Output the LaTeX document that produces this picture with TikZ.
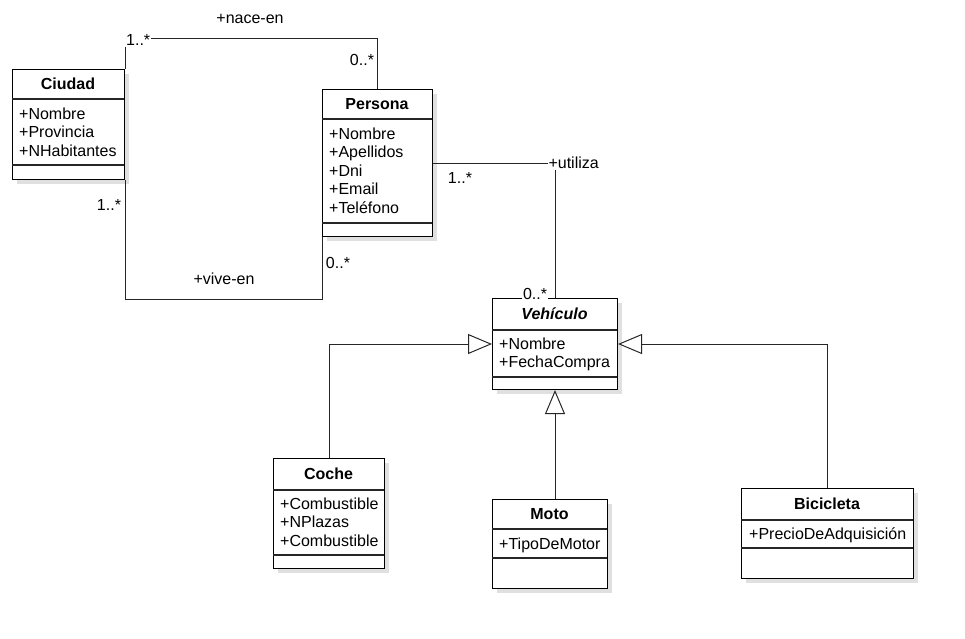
\documentclass[tikz,border=0pt]{standalone}
\usepackage{fontspec}
\setmainfont{Liberation Sans}
\usetikzlibrary{arrows.meta,shadows}

\begin{document}
\begin{tikzpicture}[
		x=1pt, y=-1pt,
		font=\fontsize{16}{18.5}\selectfont,
		class/.style={draw, line width=1pt, fill=white, anchor=north west, inner sep=0pt,
			drop shadow={shadow xshift=4pt, shadow yshift=-4pt, fill=black!12, opacity=1}},
		title/.style={font=\fontsize{16}{18.5}\selectfont\bfseries},
		attr/.style={anchor=base west, inner sep=0pt},
		sep/.style={line width=1.2pt, black!85},
		mult/.style={inner sep=1pt, fill=white, text=black},
		assoc/.style={line width=1pt, black!85},
		gen/.style={line width=1pt, black!85, -{Triangle[open, length=24pt, width=20pt]}}
	]
		\useasboundingbox (0,0) rectangle (965,638);

		% Classes
		\node[class, minimum width=112, minimum height=110] (ciudad) at (12,69) {};
		\node[title] (ciudad-title) at (68,84) {Ciudad};
		\draw[sep] (12,99) -- (124,99);
		\draw[sep] (12,165) -- (124,165);
		\foreach \a [count=\i] in {Nombre, Provincia, NHabitantes}
			\node[attr] (ciudad-\i) at (19,100.5+18.5*\i) {+\a};

		\node[class, minimum width=110, minimum height=147] (persona) at (322,89) {};
		\node[title] (persona-title) at (377,104) {Persona};
		\draw[sep] (322,119) -- (432,119);
		\draw[sep] (322,223) -- (432,223);
		\foreach \a [count=\i] in {Nombre, Apellidos, Dni, Email, Teléfono}
			\node[attr] (persona-\i) at (329,120.5+18.5*\i) {+\a};

		\node[class, minimum width=125, minimum height=91] (vehiculo) at (492,298) {};
		\node[title] (vehiculo-title) at (554.5,314) {\itshape Vehículo};
		\draw[sep] (492,330) -- (617,330);
		\draw[sep] (492,377) -- (617,377);
		\foreach \a [count=\i] in {Nombre, FechaCompra}
			\node[attr] (vehiculo-\i) at (499,330.5+18.5*\i) {+\a};

		\node[class, minimum width=111, minimum height=110] (coche) at (273,458) {};
		\node[title] (coche-title) at (328.5,474) {Coche};
		\draw[sep] (273,490) -- (384,490);
		\draw[sep] (273,555) -- (384,555);
		\foreach \a [count=\i] in {Combustible, NPlazas, Combustible}
			\node[attr] (coche-\i) at (280,490.5+18.5*\i) {+\a};

		\node[class, minimum width=115, minimum height=89] (moto) at (492,499) {};
		\node[title] (moto-title) at (549.5,514) {Moto};
		\draw[sep] (492,529) -- (607,529);
		\draw[sep] (492,558) -- (607,558);
		\node[attr] (moto-1) at (499,549) {+TipoDeMotor};

		\node[class, minimum width=172, minimum height=90] (bicicleta) at (741,488) {};
		\node[title] (bicicleta-title) at (827,504) {Bicicleta};
		\draw[sep] (741,520) -- (913,520);
		\draw[sep] (741,548) -- (913,548);
		\node[attr] (bicicleta-1) at (749,539) {+PrecioDeAdquisición};

		% Associations
		\draw[assoc] (ciudad.north east) -- ++(0,-31) -| (persona.north);
		\node (nace-en) at (250,19) {+nace-en};
		\node[mult, anchor=west] (nace-m1) at (125,40) {1..*};
		\node (nace-m2) at (362,60) {0..*};

		\draw[assoc] (ciudad.south east) -- ++(0,119) -| (persona.south west);
		\node (vive-en) at (224,279) {+vive-en};
		\node (vive-m1) at (109,205) {1..*};
		\node (vive-m2) at (338,263) {0..*};

		\draw[assoc] (persona.east) -| (vehiculo.north)
			node[pos=0.5, mult, anchor=west, xshift=-8pt] (utiliza) {+utiliza};
		\node (utiliza-m1) at (460,178) {1..*};
		\node[mult] (utiliza-m2) at (535,294) {0..*};

		% Generalizations
		\draw[gen] (coche.north) |- (vehiculo.west);
		\draw[gen] (vehiculo.south |- moto.north) -- (vehiculo.south);
		\draw[gen] (bicicleta.north) |- (vehiculo.east);
	\end{tikzpicture}
\end{document}
